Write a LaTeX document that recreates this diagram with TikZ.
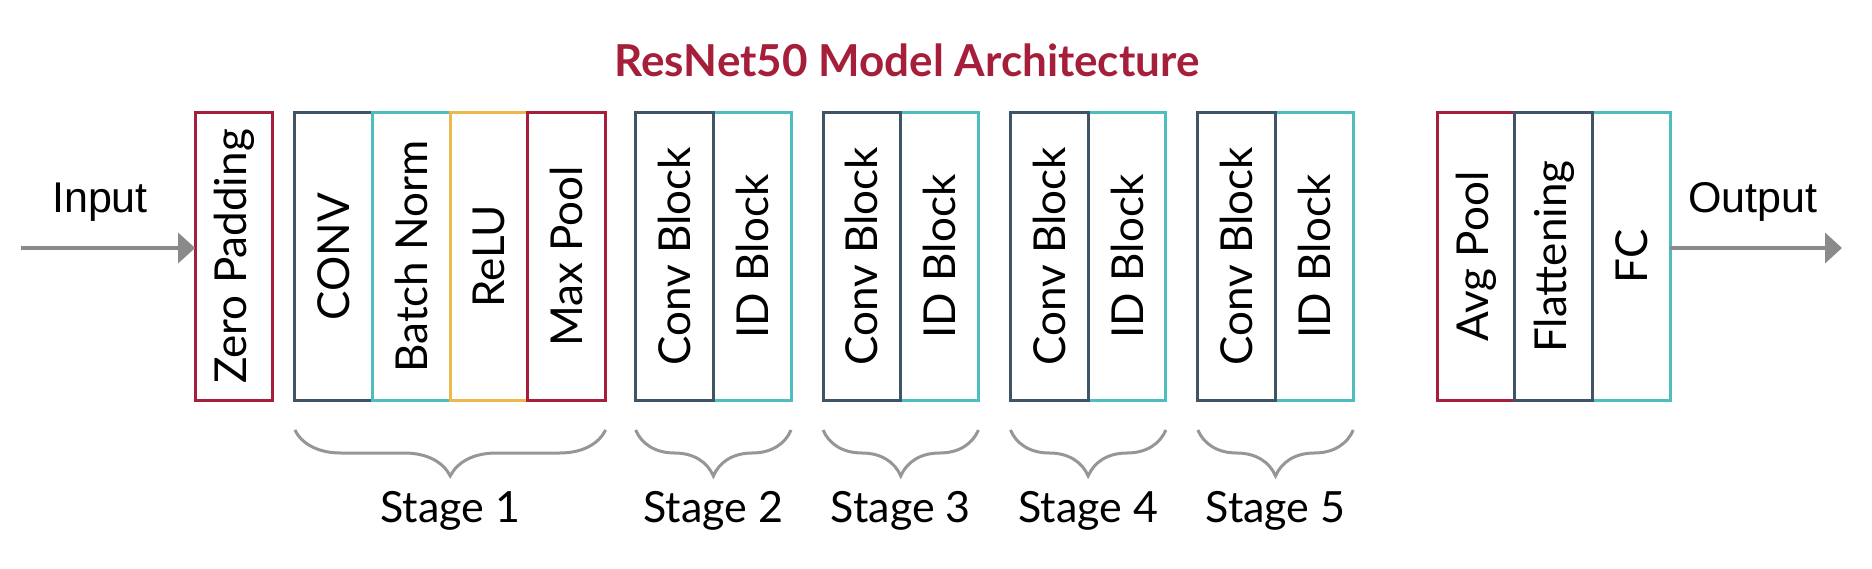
\documentclass[tikz,border=0pt]{standalone}
\usepackage{fontspec}
\usepackage{graphicx}
\setmainfont{Lato}
\newfontfamily\ioFont{Liberation Sans}
\usetikzlibrary{arrows.meta, positioning, decorations.pathreplacing}
\tikzset{>={Triangle[length=17pt, width=30pt]}}
\definecolor{rnred}{HTML}{A51E3A}
\definecolor{rnslate}{HTML}{3F5566}
\definecolor{rnteal}{HTML}{4DBDBF}
\definecolor{rnyellow}{HTML}{EDB94E}
\definecolor{rngray}{HTML}{8A8A8A}

\begin{document}
\begin{tikzpicture}[
  x=1pt, y=-1pt,
  layer/.style={draw, line width=3pt, minimum width=77.7pt, minimum height=287pt, inner sep=0pt, outer sep=0pt, font=\fontsize{44}{50}\selectfont},
  flowarrow/.style={->, line width=3.5pt, rngray},
  stagebrace/.style={decorate, decoration={brace, amplitude=46pt}, line width=3pt, rngray!90},
  stagelabel/.style={font=\fontsize{43}{50}\selectfont, text=black, anchor=base},
  iolabel/.style={font=\ioFont\fontsize{43}{50}\selectfont, anchor=base},
  titlestyle/.style={font=\bfseries\fontsize{44}{50}\selectfont, text=rnred, anchor=base}
]
\useasboundingbox (0,0) rectangle (1872,569);

% Title
\node[titlestyle] (title) at (907,77) {ResNet50 Model Architecture};

% Zero padding and stage 1
\node[layer, draw=rnred] (zp) at (234,256.5) {\rotatebox{90}{Zero Padding}};
\node[layer, draw=rnslate, right=22pt of zp] (conv) {\rotatebox{90}{CONV}};
\node[layer, draw=rnteal, right=0pt of conv] (bn) {\rotatebox{90}{Batch Norm}};
\node[layer, draw=rnyellow, right=0pt of bn] (relu) {\rotatebox{90}{ReLU}};
\node[layer, draw=rnred, right=0pt of relu] (mpool) {\rotatebox{90}{Max Pool}};

% Stages 2 to 5 (ID block first, conv block on top)
\node[layer, draw=rnteal, right=107.7pt of mpool] (id2) {\rotatebox{90}{ID Block}};
\node[layer, draw=rnslate, left=0pt of id2] (cb2) {\rotatebox{90}{Conv Block}};
\node[layer, draw=rnteal, right=109.7pt of id2] (id3) {\rotatebox{90}{ID Block}};
\node[layer, draw=rnslate, left=0pt of id3] (cb3) {\rotatebox{90}{Conv Block}};
\node[layer, draw=rnteal, right=109.7pt of id3] (id4) {\rotatebox{90}{ID Block}};
\node[layer, draw=rnslate, left=0pt of id4] (cb4) {\rotatebox{90}{Conv Block}};
\node[layer, draw=rnteal, right=109.7pt of id4] (id5) {\rotatebox{90}{ID Block}};
\node[layer, draw=rnslate, left=0pt of id5] (cb5) {\rotatebox{90}{Conv Block}};

% Head of the network
\node[layer, draw=rnred, right=84pt of id5] (avgp) {\rotatebox{90}{Avg Pool}};
\node[layer, draw=rnteal, right=77.7pt of avgp] (fc) {\rotatebox{90}{FC}};
\node[layer, draw=rnslate, right=0pt of avgp] (flat) {\rotatebox{90}{Flattening}};

% Input and output arrows
\coordinate (inStart) at (21,248);
\coordinate (outEnd) at (1842,248);
\draw[flowarrow] (inStart) -- (inStart -| zp.west);
\draw[flowarrow] (outEnd -| fc.east) -- (outEnd);
\node[iolabel] (inlabel) at (100,213) {Input};
\node[iolabel] (outlabel) at (1753,213) {Output};

% Stage braces
\draw[stagebrace] ([yshift=-30pt]mpool.south east) -- ([yshift=-30pt]conv.south west)
  node[stagelabel, midway, yshift=-92pt] (stage1) {Stage 1};
\draw[stagebrace] ([yshift=-30pt]id2.south east) -- ([yshift=-30pt]cb2.south west)
  node[stagelabel, midway, yshift=-92pt] (stage2) {Stage 2};
\draw[stagebrace] ([yshift=-30pt]id3.south east) -- ([yshift=-30pt]cb3.south west)
  node[stagelabel, midway, yshift=-92pt] (stage3) {Stage 3};
\draw[stagebrace] ([yshift=-30pt]id4.south east) -- ([yshift=-30pt]cb4.south west)
  node[stagelabel, midway, yshift=-92pt] (stage4) {Stage 4};
\draw[stagebrace] ([yshift=-30pt]id5.south east) -- ([yshift=-30pt]cb5.south west)
  node[stagelabel, midway, yshift=-92pt] (stage5) {Stage 5};

\end{tikzpicture}
\end{document}
